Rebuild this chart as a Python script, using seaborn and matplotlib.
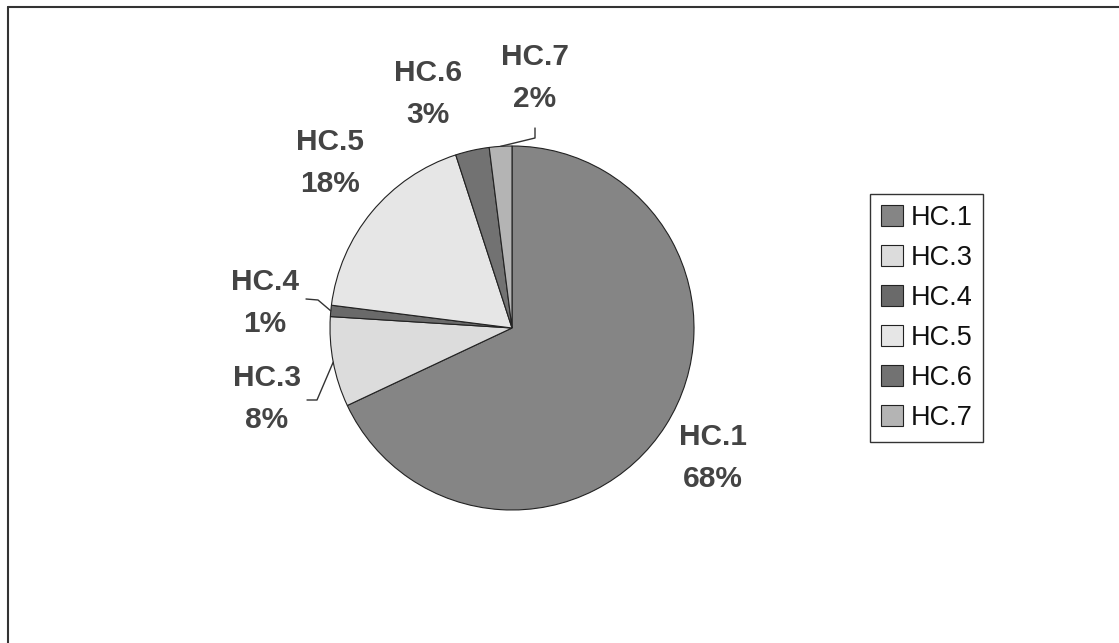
import matplotlib
matplotlib.use('Agg')
import numpy as np
import matplotlib.pyplot as plt
import seaborn as sns

# data
categories = ['HC.1', 'HC.3', 'HC.4', 'HC.5', 'HC.6', 'HC.7']
shares = [68, 8, 1, 18, 3, 2]
slice_colors = ['#858585', '#dcdcdc', '#6a6a6a', '#e6e6e6', '#727272', '#b4b4b4']

sns.set_theme(style='white')
plt.rcParams['font.family'] = ['Liberation Sans', 'DejaVu Sans']

W, H = 1119, 643
fig = plt.figure(figsize=(W / 100, H / 100), dpi=100)
ax = fig.add_axes([0, 0, 1, 1])

# pie centre / radius in pixel units (axes spans whole figure)
cx, cy, r = 512, H - 328, 182
wedges, _ = ax.pie(shares, colors=slice_colors, startangle=90, counterclock=False,
                   center=(cx, cy), radius=r,
                   wedgeprops=dict(edgecolor='#222222', linewidth=0.8))
ax.set_xlim(0, W)
ax.set_ylim(0, H)
ax.set_aspect('equal')
ax.axis('off')

# label block positions (pixel coords from the top), first line / second line
label_pos = [(713, 437), (267, 378), (265, 282), (330, 142), (428, 73), (535, 57)]
line_gap = 42
for cat, val, (lx, ly) in zip(categories, shares, label_pos):
    ax.text(lx, H - ly, cat, ha='center', va='center', fontsize=21.5,
            fontweight='bold', color='#444444')
    ax.text(lx, H - ly - line_gap, f'{val}%', ha='center', va='center', fontsize=21.5,
            fontweight='bold', color='#444444')

# leader lines for the small slices
elbows = {'HC.7': [(535, 128), (535, 138)],
          'HC.4': [(306, 299), (318, 300)],
          'HC.3': [(307, 400), (317, 400)]}
for w, cat in zip(wedges, categories):
    if cat not in elbows:
        continue
    mid = np.deg2rad((w.theta1 + w.theta2) / 2)
    ex, ey = cx + r * np.cos(mid), cy + r * np.sin(mid)
    pts = [(x, H - y) for x, y in elbows[cat]] + [(ex, ey)]
    ax.plot([p[0] for p in pts], [p[1] for p in pts], color='#333333', lw=1)

# outer frame (only top and left show in the scan)
ax.plot([8, 8], [0, H - 7], color='#333333', lw=1.5)
ax.plot([8, W], [H - 7, H - 7], color='#333333', lw=1.5)

leg = ax.legend(wedges, categories, loc='upper left',
                bbox_to_anchor=(870 / W, 1 - 194 / H), borderaxespad=0,
                frameon=True, fancybox=False, edgecolor='black', fontsize=19.5,
                handlelength=0.8, handleheight=0.8, handletextpad=0.3,
                labelspacing=0.52, borderpad=0.4)
leg.get_frame().set_linewidth(1)
for t in leg.get_texts():
    t.set_color('#111111')

fig.savefig('out.png', dpi=100, facecolor='white')
